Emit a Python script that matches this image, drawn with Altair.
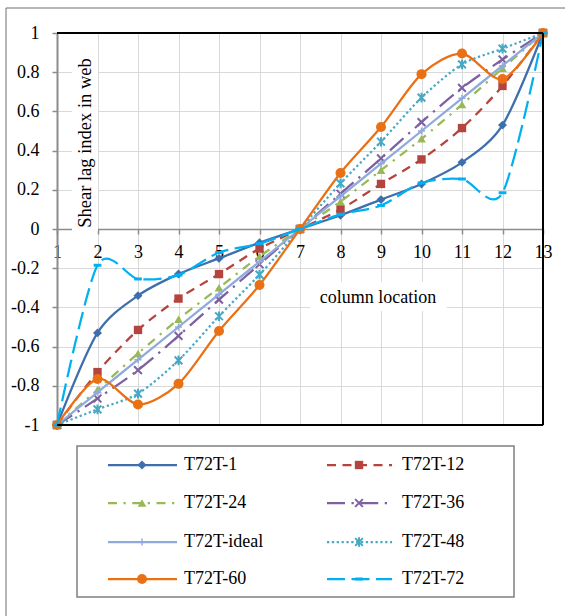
import altair as alt
import pandas as pd

# ---------------- data ----------------
columns = list(range(1, 14))
names = ["T72T-1", "T72T-12", "T72T-24", "T72T-36",
         "T72T-ideal", "T72T-48", "T72T-60", "T72T-72"]
t72t_1 = [-1, -0.53, -0.34, -0.23, -0.15, -0.07, 0, 0.07, 0.15, 0.23, 0.34, 0.53, 1]
t72t_12 = [-1, -0.73, -0.515, -0.355, -0.23, -0.10, 0, 0.10, 0.23, 0.355, 0.515, 0.73, 1]
t72t_24 = [-1, -0.82, -0.635, -0.46, -0.30, -0.14, 0, 0.14, 0.30, 0.46, 0.635, 0.82, 1]
t72t_36 = [-1, -0.865, -0.72, -0.545, -0.36, -0.18, 0, 0.18, 0.36, 0.545, 0.72, 0.865, 1]
t72t_ideal = [-1, -0.833, -0.667, -0.5, -0.333, -0.167, 0, 0.167, 0.333, 0.5, 0.667, 0.833, 1]
t72t_48 = [-1, -0.92, -0.84, -0.67, -0.445, -0.233, 0, 0.233, 0.445, 0.67, 0.84, 0.92, 1]
t72t_60 = [-1, -0.765, -0.895, -0.79, -0.52, -0.286, 0, 0.286, 0.52, 0.79, 0.895, 0.765, 1]
t72t_72 = [-1, -0.185, -0.255, -0.235, -0.12, -0.075, 0, 0.075, 0.12, 0.235, 0.255, 0.185, 1]
series_values = [t72t_1, t72t_12, t72t_24, t72t_36, t72t_ideal, t72t_48, t72t_60, t72t_72]
y_ticks = [-1, -0.8, -0.6, -0.4, -0.2, 0, 0.2, 0.4, 0.6, 0.8, 1]

# ---------------- styles ----------------
X_SHAPE = "M-1,-1L1,1M-1,1L1,-1"
STAR_SHAPE = "M-1,-1L1,1M-1,1L1,-1M0,-1.25L0,1.25"
PLUS_SHAPE = "M-1,0L1,0M0,-1L0,1"
DASH_SHAPE = "M-1,0L1,0"
styles = {
    "T72T-1": dict(color="#3E6FAD", dash=None, shape="diamond", size=80, filled=True, sw=2),
    "T72T-12": dict(color="#B5443F", dash=[9, 6.5], shape="square", size=70, filled=True, sw=2),
    "T72T-24": dict(color="#98B954", dash=[9, 6.5, 2.25, 6.5], shape="triangle-up", size=75, filled=True, sw=2),
    "T72T-36": dict(color="#7D60A0", dash=[18, 6.5, 2.25, 6.5], shape=X_SHAPE, size=60, filled=False, sw=2),
    "T72T-ideal": dict(color="#8FAADC", dash=None, shape=PLUS_SHAPE, size=50, filled=False, sw=1.5),
    "T72T-48": dict(color="#46AAC5", dash=[2.25, 2.6], shape=STAR_SHAPE, size=60, filled=False, sw=2),
    "T72T-60": dict(color="#E97015", dash=None, shape="circle", size=100, filled=True, sw=2),
    "T72T-72": dict(color="#00B0F0", dash=[18, 6.5], shape=DASH_SHAPE, size=60, filled=False, sw=3),
}

W, H = 486, 392
FONT = "'Liberation Serif', 'Times New Roman', Times, serif"

xenc = alt.X("col:Q", scale=alt.Scale(domain=[1, 13], nice=False, zero=False),
             axis=alt.Axis(values=columns, offset=-H / 2, title=None, grid=True,
                           gridColor="#d9d9d9", gridWidth=1,
                           domainColor="#8c8c8c", domainWidth=1.5,
                           tickColor="#8c8c8c", tickSize=5, tickWidth=1.5,
                           labelFont=FONT, labelFontSize=18, labelColor="black",
                           labelPadding=9, labelFlush=False, labelOverlap=False))
yenc = alt.Y("val:Q", scale=alt.Scale(domain=[-1, 1], nice=False),
             axis=alt.Axis(values=y_ticks, title=None, grid=True,
                           gridColor="#d9d9d9", gridWidth=1,
                           domainColor="#8c8c8c", domainWidth=2,
                           tickColor="#8c8c8c", tickSize=5, tickWidth=1.5,
                           labelExpr="toString(round(datum.value*10)/10)",
                           labelFont=FONT, labelFontSize=18, labelColor="black",
                           labelPadding=13, labelOverlap=False))

one = pd.DataFrame({"k": [0]})
layers = []

# white boxes behind the in-plot titles
layers.append(alt.Chart(one).mark_rect(color="white").encode(
    x=alt.value(15), x2=alt.value(41), y=alt.value(12), y2=alt.value(198)))
layers.append(alt.Chart(one).mark_rect(color="white").encode(
    x=alt.value(253), x2=alt.value(390), y=alt.value(249), y2=alt.value(278)))

# data series
for name, vals in zip(names, series_values):
    st = styles[name]
    df = pd.DataFrame({"col": columns, "val": vals, "series": name})
    lkw = dict(interpolate="cardinal", tension=0.15, strokeWidth=2.25, color=st["color"])
    if st["dash"]:
        lkw["strokeDash"] = st["dash"]
    layers.append(alt.Chart(df).mark_line(**lkw).encode(x=xenc, y=yenc))
    pkw = dict(shape=st["shape"], size=st["size"], filled=st["filled"],
               color=st["color"], opacity=1, strokeWidth=st["sw"])
    layers.append(alt.Chart(df).mark_point(**pkw).encode(x=xenc, y=yenc))

# plot frame (top, right, bottom)
for enc in [dict(x=alt.value(0), x2=alt.value(W), y=alt.value(0)),
            dict(x=alt.value(W), y=alt.value(0), y2=alt.value(H)),
            dict(x=alt.value(0), x2=alt.value(W), y=alt.value(H))]:
    layers.append(alt.Chart(one).mark_rule(color="black", strokeWidth=2).encode(**enc))

# outer chart border (left and top)
layers.append(alt.Chart(one).mark_rule(color="#6e6e6e", strokeWidth=1).encode(
    x=alt.value(-51), y=alt.value(-25), y2=alt.value(600)))
layers.append(alt.Chart(one).mark_rule(color="#6e6e6e", strokeWidth=1).encode(
    x=alt.value(-51), x2=alt.value(530), y=alt.value(-25)))

# in-plot titles
layers.append(alt.Chart(one).mark_text(
    text="Shear lag index in web", angle=270, font=FONT, fontSize=18.5,
    color="black", align="center", baseline="alphabetic").encode(
    x=alt.value(34), y=alt.value(110)))
layers.append(alt.Chart(one).mark_text(
    text="column location", font=FONT, fontSize=18, color="black",
    align="center", baseline="middle").encode(x=alt.value(321), y=alt.value(265)))

# legend box
layers.append(alt.Chart(one).mark_rect(fill="white", stroke="#808080", strokeWidth=1.5).encode(
    x=alt.value(20), x2=alt.value(457), y=alt.value(413), y2=alt.value(564)))
row_y = [432, 470, 509, 546]
col_line = [(51, 120), (270, 335)]
col_mark = [85, 302]
col_text = [127, 345]
for i, name in enumerate(names):
    st = styles[name]
    r, c = divmod(i, 2)
    yy = row_y[r]
    ldf = pd.DataFrame({"name": [name]})
    rkw = dict(color=st["color"], strokeWidth=2.25)
    if st["dash"]:
        rkw["strokeDash"] = st["dash"]
    layers.append(alt.Chart(ldf).mark_rule(**rkw).encode(
        x=alt.value(col_line[c][0]), x2=alt.value(col_line[c][1]), y=alt.value(yy)))
    layers.append(alt.Chart(ldf).mark_point(
        shape=st["shape"], size=st["size"], filled=st["filled"], color=st["color"],
        opacity=1, strokeWidth=st["sw"]).encode(x=alt.value(col_mark[c]), y=alt.value(yy)))
    layers.append(alt.Chart(ldf).mark_text(
        font=FONT, fontSize=18, color="black", align="left", baseline="middle").encode(
        x=alt.value(col_text[c]), y=alt.value(yy), text="name:N"))

chart = alt.layer(*layers).properties(
    width=W, height=H,
    autosize=alt.AutoSizeParams(type="none"),
    padding={"left": 57, "top": 33, "right": 22, "bottom": 191},
    background="white",
).configure_view(stroke=None)

chart.save("out.html", embed_options={"renderer": "svg", "actions": False})
